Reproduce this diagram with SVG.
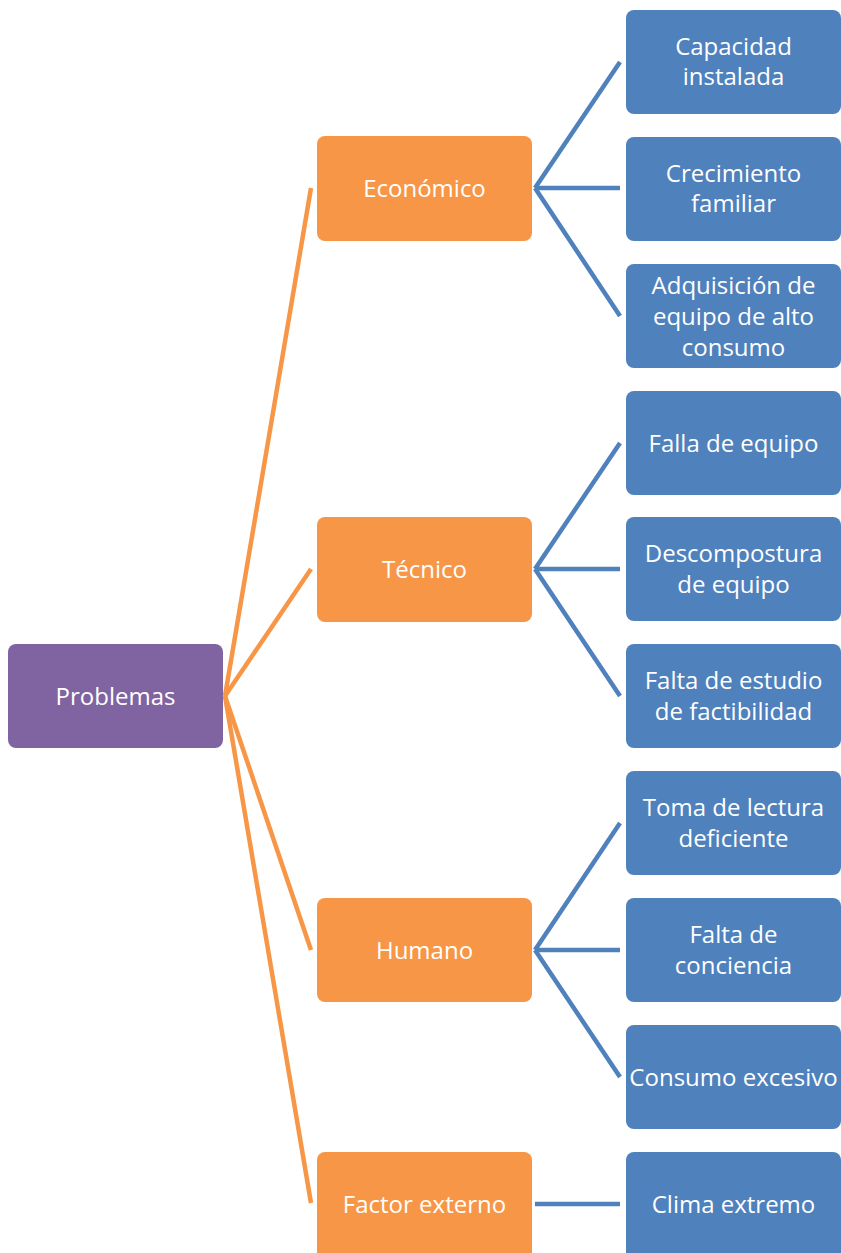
<svg xmlns="http://www.w3.org/2000/svg" width="841" height="1253" viewBox="0 0 841 1253">
<style>
.root{fill:#8064A2}
.mid{fill:#F79646}
.leaf{fill:#4F81BD}
text{font-family:"Open Sans","Noto Sans","Liberation Sans",sans-serif;font-size:24px;fill:#ffffff;text-anchor:middle;dominant-baseline:central}
.co{stroke:#F79646;stroke-width:4.5;fill:none}
.cb{stroke:#4F81BD;stroke-width:4.5;fill:none}
</style>
<rect width="841" height="1253" fill="#ffffff"/>
<g id="connectors">
<path class="co" d="M225 696 L311 188"/>
<path class="co" d="M225 696 L311 569"/>
<path class="co" d="M225 696 L311 950"/>
<path class="co" d="M225 696 L311 1203"/>
<path class="cb" d="M535 188 L620 62"/>
<path class="cb" d="M535 188 L620 188"/>
<path class="cb" d="M535 188 L620 316"/>
<path class="cb" d="M535 569 L620 443"/>
<path class="cb" d="M535 569 L620 569"/>
<path class="cb" d="M535 569 L620 696"/>
<path class="cb" d="M535 950 L620 823"/>
<path class="cb" d="M535 950 L620 950"/>
<path class="cb" d="M535 950 L620 1077"/>
<path class="cb" d="M535 1204 L620 1204"/>
</g>
<g id="problemas"><rect class="root" x="8" y="644" width="215" height="104" rx="8"/><text x="115.5" y="695">Problemas</text></g>
<g id="economico"><rect class="mid" x="317" y="136" width="215" height="105" rx="8"/><text x="424.5" y="187">Económico</text></g>
<g id="tecnico"><rect class="mid" x="317" y="517" width="215" height="105" rx="8"/><text x="424.5" y="568">Técnico</text></g>
<g id="humano"><rect class="mid" x="317" y="898" width="215" height="104" rx="8"/><text x="424.5" y="949">Humano</text></g>
<g id="factor"><rect class="mid" x="317" y="1152" width="215" height="110" rx="8"/><text x="424.5" y="1203">Factor externo</text></g>
<g id="capacidad"><rect class="leaf" x="626" y="10" width="215" height="104" rx="8"/><text x="733.5" y="45">Capacidad</text><text x="733.5" y="75">instalada</text></g>
<g id="crecimiento"><rect class="leaf" x="626" y="137" width="215" height="104" rx="8"/><text x="733.5" y="172">Crecimiento</text><text x="733.5" y="202">familiar</text></g>
<g id="adquisicion"><rect class="leaf" x="626" y="264" width="215" height="104" rx="8"/><text x="733.5" y="284">Adquisición de</text><text x="733.5" y="315">equipo de alto</text><text x="733.5" y="346">consumo</text></g>
<g id="falla"><rect class="leaf" x="626" y="391" width="215" height="104" rx="8"/><text x="733.5" y="442">Falla de equipo</text></g>
<g id="descompostura"><rect class="leaf" x="626" y="517" width="215" height="104" rx="8"/><text x="733.5" y="552">Descompostura</text><text x="733.5" y="583">de equipo</text></g>
<g id="estudio"><rect class="leaf" x="626" y="644" width="215" height="104" rx="8"/><text x="733.5" y="679">Falta de estudio</text><text x="733.5" y="710">de factibilidad</text></g>
<g id="lectura"><rect class="leaf" x="626" y="771" width="215" height="104" rx="8"/><text x="733.5" y="806">Toma de lectura</text><text x="733.5" y="837">deficiente</text></g>
<g id="conciencia"><rect class="leaf" x="626" y="898" width="215" height="104" rx="8"/><text x="733.5" y="933">Falta de</text><text x="733.5" y="964">conciencia</text></g>
<g id="consumo"><rect class="leaf" x="626" y="1025" width="215" height="104" rx="8"/><text x="733.5" y="1076">Consumo excesivo</text></g>
<g id="clima"><rect class="leaf" x="626" y="1152" width="215" height="110" rx="8"/><text x="733.5" y="1203">Clima extremo</text></g>
</svg>
